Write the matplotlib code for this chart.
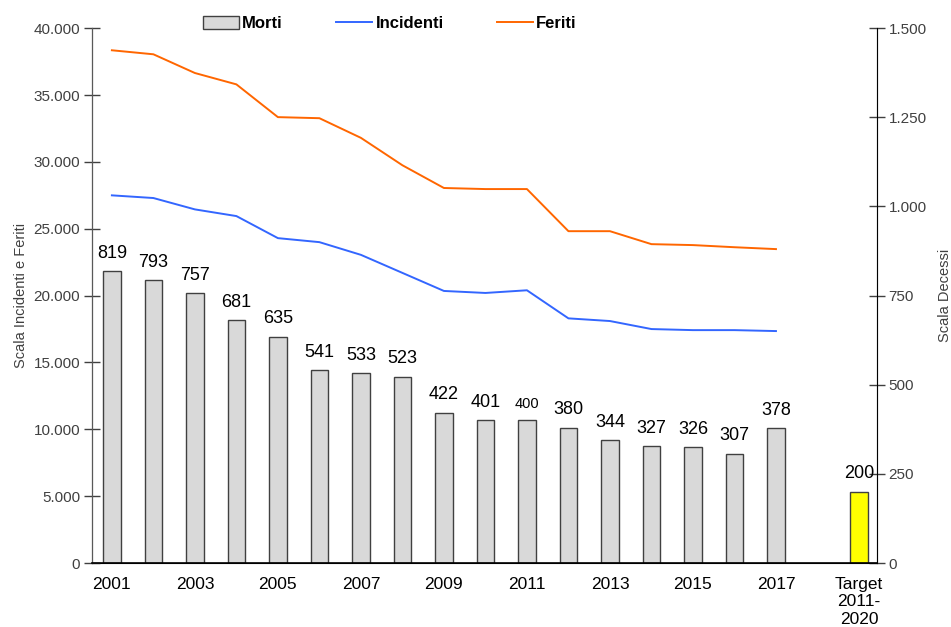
import matplotlib
matplotlib.use('Agg')
import matplotlib.pyplot as plt
from matplotlib.ticker import FuncFormatter
import numpy as np

plt.rcParams['font.family'] = ['Liberation Sans', 'DejaVu Sans']

anni = [str(a) for a in range(2001, 2018)]
categorie = anni + ['', 'Target\n2011-\n2020']
morti = [819, 793, 757, 681, 635, 541, 533, 523, 422, 401, 400, 380, 344, 327, 326, 307, 378]
morti_target = 200
incidenti = [27500, 27300, 26450, 25950, 24300, 24000, 23050, 21700, 20350, 20200, 20400,
             18300, 18100, 17500, 17420, 17420, 17350]
feriti = [38350, 38050, 36650, 35800, 33350, 33270, 31800, 29750, 28050, 27970, 27970,
          24820, 24820, 23850, 23780, 23620, 23480]


def punto_migliaia(v, pos):
    return f'{int(v):,}'.replace(',', '.')


fig = plt.figure(figsize=(9.51, 6.27), dpi=100)
ax = fig.add_axes([0.0967, 0.102, 0.8253, 0.853])
ax2 = ax.twinx()

x = np.arange(len(anni))
x_target = len(categorie) - 1

# barre sulla scala destra
barre = ax2.bar(x, morti, width=0.42, color='#d9d9d9', edgecolor='#404040', linewidth=1, label='Morti')
ax2.bar([x_target], [morti_target], width=0.42, color='#ffff00', edgecolor='#404040', linewidth=1)
for i, v in enumerate(morti):
    ax2.text(x[i], v + 26, str(v), ha='center', va='bottom', fontsize=10.5 if v == 400 else 13)
ax2.text(x_target, morti_target + 26, str(morti_target), ha='center', va='bottom', fontsize=13)

# linee sulla scala sinistra
l1, = ax.plot(x, incidenti, color='#3366ff', linewidth=1.4, label='Incidenti')
l2, = ax.plot(x, feriti, color='#ff6600', linewidth=1.4, label='Feriti')

ax.set_zorder(ax2.get_zorder() + 1)
ax.patch.set_visible(False)

ax.set_xlim(-0.48, 18.43)
ax.set_ylim(0, 40000)
ax2.set_ylim(0, 1500)
ax.set_yticks(np.arange(0, 40001, 5000))
ax2.set_yticks(np.arange(0, 1501, 250))
ax.yaxis.set_major_formatter(FuncFormatter(punto_migliaia))
ax2.yaxis.set_major_formatter(FuncFormatter(punto_migliaia))

ax.set_xticks(list(range(0, 17, 2)) + [x_target])
ax.set_xticklabels([categorie[i] for i in range(0, 17, 2)] + [categorie[x_target]], fontsize=12.5,
                   linespacing=1.2)
ax.tick_params(axis='x', length=0, pad=10)
ax.tick_params(axis='y', direction='inout', length=11, colors='#404040', labelsize=11, width=1, pad=3)
ax2.tick_params(axis='y', direction='inout', length=11, colors='#404040', labelsize=11, width=1, pad=3)

for a in (ax, ax2):
    a.spines['top'].set_visible(False)
ax.spines['left'].set_color('#595959')
ax2.spines['right'].set_color('#808080')
ax.spines['bottom'].set_color('#000000')
ax.spines['bottom'].set_linewidth(1.2)

ax.set_ylabel('Scala Incidenti e Feriti', fontsize=10.5, color='#404040', labelpad=4)
ax2.set_ylabel('Scala Decessi', fontsize=10.5, color='#404040', labelpad=8)

leg = fig.legend([barre, l1, l2], ['Morti', 'Incidenti', 'Feriti'], loc='upper center',
                 bbox_to_anchor=(0.41, 0.998), ncol=3, frameon=False, handlelength=2.15,
                 handleheight=0.75, columnspacing=3.2, handletextpad=0.2,
                 prop={'weight': 'bold', 'size': 12})

fig.savefig('out.png', dpi=100)
